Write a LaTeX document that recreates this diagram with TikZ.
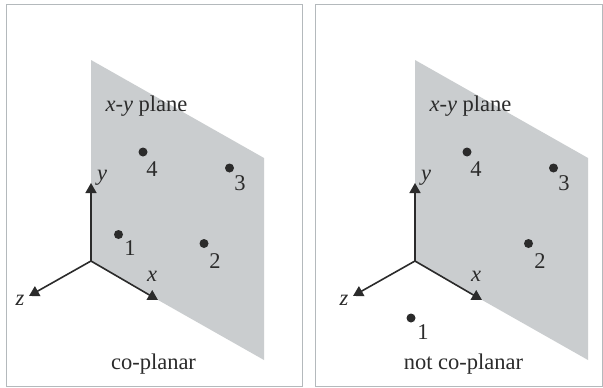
\documentclass[tikz,border=0pt]{standalone}
\usepackage{fontspec}
\setmainfont{Liberation Serif}
\usetikzlibrary{arrows.meta}
\definecolor{planegray}{HTML}{CACDCF}
\definecolor{framegray}{HTML}{B4B9BC}
\definecolor{ink}{HTML}{2B2B2B}
\tikzset{
  frame/.style={draw=framegray,line width=1pt,fill=white},
  plane/.style={fill=planegray,draw=none},
  axis/.style={draw=ink,line width=1.6pt,-{Triangle[length=10pt,width=11pt]}},
  dot/.style={circle,fill=ink,draw=none,inner sep=0pt,minimum size=9pt},
  lbl/.style={text=ink,font=\fontsize{22.5}{24}\selectfont,inner sep=0pt}
}
\newcommand{\panelcommon}{%
  \fill[plane] (91,60) -- (264,158) -- (264,360) -- (91,262) -- cycle;
  \coordinate (o) at (91,261);
  \coordinate (xe) at (158,300);
  \coordinate (ye) at (91,183);
  \coordinate (ze) at (29,296);
  \draw[axis] (o) -- (xe);
  \draw[axis] (o) -- (ye);
  \draw[axis] (o) -- (ze);
  \node[lbl] (xl) at (152,276) {\textit{x}};
  \node[lbl] (yl) at (102,178) {\textit{y}};
  \node[lbl] (zl) at (20,300) {\textit{z}};
  \node[lbl] (pl) at (146.5,106) {\textit{x-y} plane};
  \node[dot] (p3) at (229.5,168) {};
  \node[dot] (p4) at (143,152) {};
  \node[lbl] (n3) at (240,183) {3};
  \node[lbl] (n4) at (152,169) {4};
}
\begin{document}
\begin{tikzpicture}[x=1pt,y=-1pt]
\useasboundingbox (0,0) rectangle (603,388);
\fill[white] (0,0) rectangle (603,388);
\draw[frame] (6,4) rectangle (302,386);
\draw[frame] (315.5,4) rectangle (602.5,386);
\begin{scope}
  \panelcommon
  \node[dot] (p1) at (118.5,234.5) {};
  \node[dot] (p2) at (204,243.5) {};
  \node[lbl] (n1) at (130,248) {1};
  \node[lbl] (n2) at (215,261) {2};
  \node[lbl] (cap) at (153.5,364) {co-planar};
\end{scope}
\begin{scope}[xshift=324pt]
  \panelcommon
  \node[dot] (p1) at (87,318) {};
  \node[dot] (p2) at (204.5,243.5) {};
  \node[lbl] (n1) at (99,332) {1};
  \node[lbl] (n2) at (216,261) {2};
  \node[lbl] (cap) at (139.5,364) {not co-planar};
\end{scope}
\end{tikzpicture}
\end{document}
